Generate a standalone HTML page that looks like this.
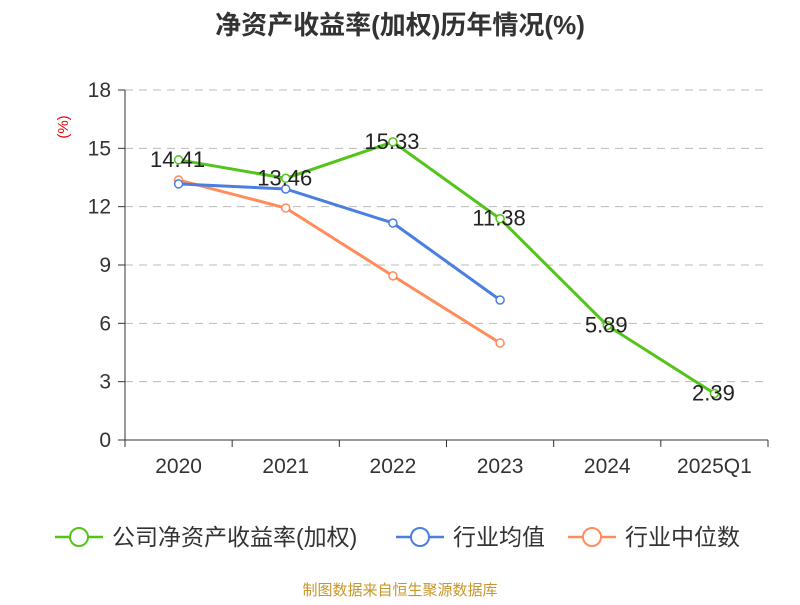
<!DOCTYPE html>
<html><head><meta charset="utf-8"><style>
body{margin:0;background:#fff;font-family:"Liberation Sans","Noto Sans CJK SC",sans-serif}
</style></head><body>
<svg id="c" width="800" height="600" xmlns="http://www.w3.org/2000/svg" style="font-family:'Liberation Sans','Noto Sans CJK SC',sans-serif">
<text x="400" y="34" text-anchor="middle" font-size="26" font-weight="bold" fill="#333">净资产收益率(加权)历年情况(%)</text>
<text x="68" y="127" text-anchor="middle" font-size="15" fill="#e00" transform="rotate(-90 68 127)">(%)</text>
<g id="grid"></g><g id="axes"></g><g id="series"></g>
<g>
<g><line x1="55" y1="537" x2="103" y2="537" stroke="#52c41a" stroke-width="2.5"/><circle cx="79" cy="537" r="9" fill="#fff" stroke="#52c41a" stroke-width="2"/><text x="112" y="545" font-size="23" fill="#333">公司净资产收益率(加权)</text></g>
<g><line x1="396" y1="537" x2="444" y2="537" stroke="#4a7ee0" stroke-width="2.5"/><circle cx="420" cy="537" r="9" fill="#fff" stroke="#4a7ee0" stroke-width="2"/><text x="453" y="545" font-size="23" fill="#333">行业均值</text></g>
<g><line x1="568" y1="537" x2="616" y2="537" stroke="#ff8c5a" stroke-width="2.5"/><circle cx="592" cy="537" r="9" fill="#fff" stroke="#ff8c5a" stroke-width="2"/><text x="625" y="545" font-size="23" fill="#333">行业中位数</text></g>
</g>
<text x="400" y="595" text-anchor="middle" font-size="15" fill="#c8962a">制图数据来自恒生聚源数据库</text>
</svg>
<script>
const categories=["2020","2021","2022","2023","2024","2025Q1"];
const company=[14.41,13.46,15.33,11.38,5.89,2.39];
const industryAvg=[13.17,12.91,11.16,7.2];
const industryMedian=[13.37,11.93,8.44,4.99];
const yTicks=[0,3,6,9,12,15,18];
const NS="http://www.w3.org/2000/svg";
const x0=125,x1=768,yBase=440,yTop=90,step=(x1-x0)/categories.length;
const xs=i=>x0+step*(i+0.5);
const ys=v=>yBase-(v/18)*(yBase-yTop);
function mk(t,a,p){const e=document.createElementNS(NS,t);for(const k in a)e.setAttribute(k,a[k]);p.appendChild(e);return e;}
const grid=document.getElementById('grid'),axes=document.getElementById('axes'),ser=document.getElementById('series');
yTicks.forEach(v=>{
 if(v>0){const g=mk('line',{x1:x0,x2:x1,y1:ys(v),y2:ys(v),stroke:'#bbb','stroke-dasharray':'8,6'},grid);
 
 }
 const tk=mk('line',{x1:x0-7,x2:x0,y1:ys(v),y2:ys(v),stroke:'#333'},axes);
 
 
 const t=mk('text',{x:x0-14,y:ys(v)+7,'text-anchor':'end','font-size':21,fill:'#333'},axes);t.textContent=v;
 
 
});
const ya=mk('line',{x1:x0,x2:x0,y1:yTop,y2:yBase,stroke:'#333'},axes);


const xa=mk('line',{x1:x0,x2:x1,y1:yBase,y2:yBase,stroke:'#333'},axes);


for(let i=0;i<=categories.length;i++){const l=mk('line',{x1:x0+step*i,x2:x0+step*i,y1:yBase,y2:yBase+7,stroke:'#333'},axes);
 
 }
categories.forEach((c,i)=>{const t=mk('text',{x:xs(i),y:yBase+33,'text-anchor':'middle','font-size':21,fill:'#333'},axes);t.textContent=c;
 
 });
function line(data,color,name,labels){
 const g=mk('g',{},ser);
 
 
 mk('polyline',{points:data.map((v,i)=>xs(i)+','+ys(v)).join(' '),fill:'none',stroke:color,'stroke-width':3},g);
 data.forEach((v,i)=>{const c=mk('circle',{cx:xs(i),cy:ys(v),r:4,fill:'#fff',stroke:color,'stroke-width':1.5},g);
  
  
  if(labels){const t=mk('text',{x:xs(i)-1,y:ys(v)+7,'text-anchor':'middle','font-size':22,fill:'#222'},g);t.textContent=v.toFixed(2);
   
   }
 });
}
line(industryMedian,'#ff8c5a','industry-median-series',false);
line(industryAvg,'#4a7ee0','industry-avg-series',false);
line(company,'#52c41a','company-series',true);
</script>
</body></html>
